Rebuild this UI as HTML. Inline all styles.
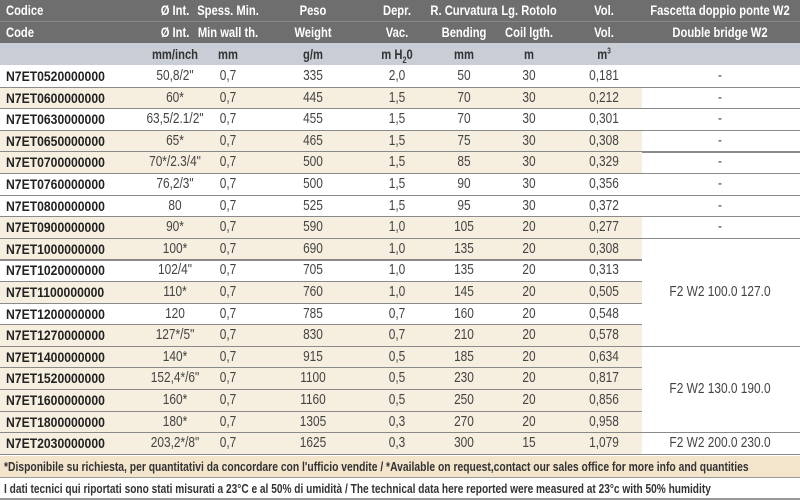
<!DOCTYPE html>
<html><head><meta charset="utf-8"><style>
*{margin:0;padding:0;box-sizing:border-box}
body{width:800px;height:500px;background:#fff;position:relative;overflow:hidden;font-family:"Liberation Sans",sans-serif;}
.a{position:absolute;white-space:nowrap}
.h{color:#fff;font-weight:bold;font-size:14px;text-align:center;transform:scaleX(0.8)}
.h3{color:#333;font-weight:bold;font-size:14px;text-align:center;transform:scaleX(0.8)}
.c{font-size:14.5px;color:#444;text-align:center;transform:scaleX(0.82)}
.code{font-size:14px;font-weight:bold;color:#222;transform:scaleX(0.87);transform-origin:0 0}
.hl{transform-origin:0 0}
</style></head><body>
<div class="a" style="left:0;top:0;width:800px;height:43px;background:#6e6e6e"></div>
<div class="a" style="left:0;top:21px;width:800px;height:1px;background:#888"></div>
<div class="a" style="left:0;top:43px;width:800px;height:22px;background:#c9cdd6"></div>
<script>
const cx=[null,175,228,313,397,464,529,604];
function t(x,y,s,cls,w){const d=document.createElement('div');d.className='a '+cls;d.style.top=y+'px';if(w){d.style.left=(x-w/2)+'px';d.style.width=w+'px';}else d.style.left=x+'px';d.innerHTML=s;document.body.appendChild(d);}
const h1=['Codice','Ø Int.','Spess. Min.','Peso','Depr.','R. Curvatura','Lg. Rotolo','Vol.'];
const h2=['Code','Ø Int.','Min wall th.','Weight','Vac.','Bending','Coil lgth.','Vol.'];
const h3=['','mm/inch','mm','g/m','m H<sub style="font-size:9px">2</sub>0','mm','m','m<sup style="font-size:8px">3</sup>'];
for(let i=0;i<8;i++){
 if(i==0){t(6,2,h1[0],'h hl');t(6,24,h2[0],'h hl');}
 else{t(cx[i],2,h1[i],'h',110);t(cx[i],24,h2[i],'h',110);t(cx[i],46,h3[i],'h3',110);}
}
t(720,2,'Fascetta doppio ponte W2','h',190);t(720,24,'Double bridge W2','h',190);
const R=[
['N7ET0520000000','50,8/2"','335','2,0','50','30','0,181',0],
['N7ET0600000000','60*','445','1,5','70','30','0,212',1],
['N7ET0630000000','63,5/2.1/2"','455','1,5','70','30','0,301',0],
['N7ET0650000000','65*','465','1,5','75','30','0,308',1],
['N7ET0700000000','70*/2.3/4"','500','1,5','85','30','0,329',1],
['N7ET0760000000','76,2/3"','500','1,5','90','30','0,356',0],
['N7ET0800000000','80','525','1,5','95','30','0,372',0],
['N7ET0900000000','90*','590','1,0','105','20','0,277',1],
['N7ET1000000000','100*','690','1,0','135','20','0,308',1],
['N7ET1020000000','102/4"','705','1,0','135','20','0,313',0],
['N7ET1100000000','110*','760','1,0','145','20','0,505',1],
['N7ET1200000000','120','785','0,7','160','20','0,548',0],
['N7ET1270000000','127*/5"','830','0,7','210','20','0,578',1],
['N7ET1400000000','140*','915','0,5','185','20','0,634',1],
['N7ET1520000000','152,4*/6"','1100','0,5','230','20','0,817',1],
['N7ET1600000000','160*','1160','0,5','250','20','0,856',1],
['N7ET1800000000','180*','1305','0,3','270','20','0,958',1],
['N7ET2030000000','203,2*/8"','1625','0,3','300','15','1,079',1]];
const top0=66,rh=21.6;
R.forEach((r,i)=>{
 const y=top0+i*rh;
 if(r[7]){const b=document.createElement('div');b.className='a';b.style.cssText=`left:0;top:${y}px;width:642px;height:${rh}px;background:#f6eedf`;document.body.appendChild(b);}
 const s=document.createElement('div');s.className='a';
 const rightLine=(i<=7||i==12||i==16||i==17);
 s.style.cssText=`left:0;top:${y+rh-1}px;width:${rightLine?800:642}px;height:1.3px;background:#8a8a8a`;document.body.appendChild(s);
 t(6,y+2,r[0],'code');
 const v=[null,r[1],'0,7',r[2],r[3],r[4],r[5],r[6]];
 for(let k=1;k<8;k++)t(cx[k],y+2,v[k],'c',100);
 if(i<=7)t(720,y+2,'-','c',40);
});
t(720,top0+10*rh+2,'F2 W2 100.0 127.0','c',170);
t(720,top0+14.5*rh+2,'F2 W2 130.0 190.0','c',170);
t(720,top0+17*rh+2,'F2 W2 200.0 230.0','c',170);
</script>
<div class="a" style="left:0;top:456px;width:800px;height:22px;background:#f3e4cc;border-bottom:1px solid #999"></div>
<div class="a" style="left:4px;top:459px;font-size:13px;font-weight:bold;color:#333;transform:scaleX(0.795);transform-origin:0 0">*Disponibile su richiesta, per quantitativi da concordare con l'ufficio vendite / *Available on request,contact our sales office for more info and quantities</div>
<div class="a" style="left:4px;top:481px;font-size:13px;font-weight:bold;color:#333;transform:scaleX(0.78);transform-origin:0 0">I dati tecnici qui riportati sono stati misurati a 23°C e al 50% di umidità / The technical data here reported were measured at 23°c with 50% humidity</div>
<div class="a" style="left:0;top:498px;width:800px;height:1.5px;background:#999"></div>
</body></html>
